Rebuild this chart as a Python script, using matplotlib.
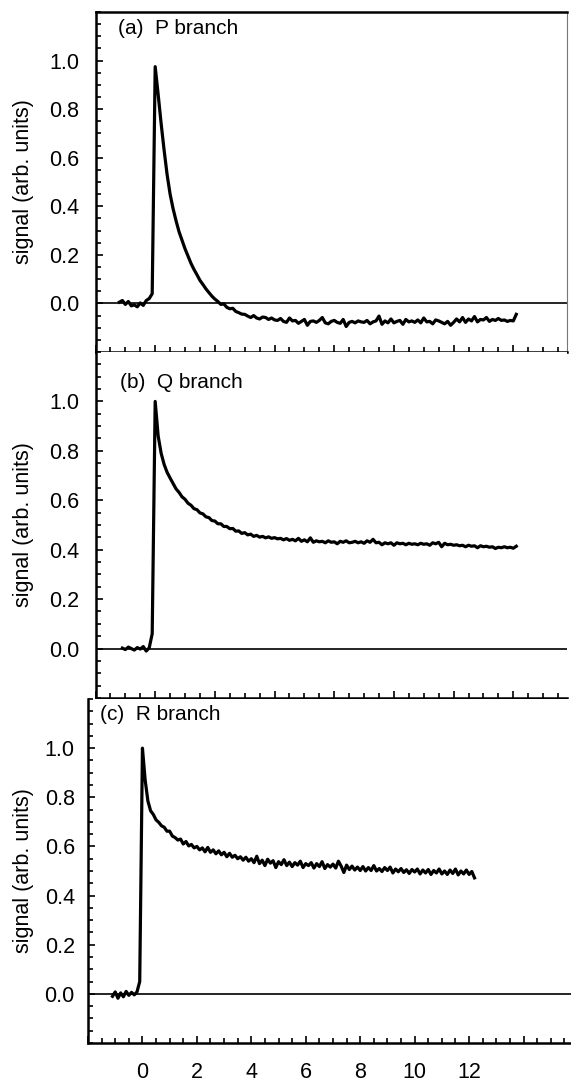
import numpy as np
import matplotlib
matplotlib.use("Agg")
import matplotlib.pyplot as plt
from matplotlib.ticker import MultipleLocator, FixedLocator, FuncFormatter

plt.rcParams['font.family'] = ['Liberation Sans', 'DejaVu Sans']

# ---------------- data (time in ps, uniformly sampled) ----------------
step = 0.1

p_start = -1.2
p_signal = [
    0.005, 0.012, -0.004, 0.008, -0.010, -0.006, -0.014, 0.002, -0.008, 0.012, 0.020,
    0.04, 0.975,
    0.86, 0.74, 0.63, 0.53, 0.45, 0.39, 0.34, 0.295, 0.26,
    0.225, 0.195, 0.165, 0.14, 0.118, 0.095, 0.078, 0.06, 0.045, 0.03,
    0.018, 0.008, -0.004, -0.002, -0.016, -0.022, -0.02, -0.033, -0.038, -0.044,
    -0.045, -0.052, -0.058, -0.05, -0.06, -0.064, -0.056, -0.058, -0.066, -0.06,
    -0.068, -0.07, -0.062, -0.074, -0.078, -0.06, -0.072, -0.07, -0.082, -0.074,
    -0.066, -0.09, -0.074, -0.072, -0.078, -0.07, -0.058, -0.08, -0.084, -0.074,
    -0.07, -0.078, -0.082, -0.066, -0.095, -0.078, -0.074, -0.08, -0.072, -0.076,
    -0.078, -0.07, -0.084, -0.076, -0.072, -0.052, -0.086, -0.072, -0.08, -0.064,
    -0.08, -0.074, -0.07, -0.086, -0.066, -0.076, -0.072, -0.078, -0.068, -0.08,
    -0.06, -0.076, -0.074, -0.084, -0.068, -0.072, -0.078, -0.084, -0.074, -0.09,
    -0.078, -0.064, -0.076, -0.058, -0.078, -0.064, -0.072, -0.054, -0.076, -0.066,
    -0.068, -0.058, -0.074, -0.066, -0.07, -0.062, -0.07, -0.068, -0.074, -0.07,
    -0.072, -0.045,
]

q_start = -1.1
q_signal = [
    0.002, -0.004, 0.006, 0.0, -0.006, 0.004, -0.002, 0.008, -0.010, 0.003,
    0.06, 1.0,
    0.86, 0.79, 0.745, 0.713, 0.69, 0.668, 0.646, 0.632, 0.614,
    0.604, 0.588, 0.58, 0.566, 0.562, 0.549, 0.545, 0.533, 0.53, 0.518,
    0.516, 0.505, 0.505, 0.494, 0.494, 0.485, 0.486, 0.475, 0.476, 0.466,
    0.469, 0.46, 0.463, 0.454, 0.458, 0.451, 0.454, 0.448, 0.452, 0.446,
    0.449, 0.444, 0.446, 0.44, 0.445, 0.438, 0.442, 0.436, 0.446, 0.434,
    0.44, 0.432, 0.448, 0.43, 0.436, 0.432, 0.434, 0.428, 0.436, 0.43,
    0.432, 0.424, 0.434, 0.43, 0.436, 0.428, 0.43, 0.434, 0.428, 0.432,
    0.426, 0.436, 0.43, 0.442, 0.428, 0.43, 0.42, 0.428, 0.424, 0.428,
    0.418, 0.428, 0.424, 0.426, 0.42, 0.426, 0.422, 0.424, 0.42, 0.426,
    0.422, 0.424, 0.418, 0.428, 0.424, 0.43, 0.412, 0.426, 0.42, 0.422,
    0.418, 0.42, 0.416, 0.418, 0.412, 0.418, 0.414, 0.416, 0.408, 0.416,
    0.412, 0.414, 0.41, 0.412, 0.405, 0.41, 0.408, 0.412, 0.408, 0.41,
    0.406, 0.414,
]

r_start = -1.1
r_signal = [
    -0.010, 0.008, -0.018, 0.004, -0.012, 0.010, -0.006, 0.006, -0.004, 0.008,
    0.05, 1.0,
    0.87, 0.785, 0.745, 0.73, 0.708, 0.698, 0.684, 0.678, 0.662,
    0.662, 0.642, 0.636, 0.626, 0.63, 0.61, 0.62, 0.602, 0.608, 0.594,
    0.6, 0.586, 0.594, 0.578, 0.596, 0.576, 0.586, 0.57, 0.582, 0.566,
    0.576, 0.558, 0.572, 0.556, 0.564, 0.55, 0.558, 0.544, 0.556, 0.54,
    0.55, 0.534, 0.56, 0.53, 0.544, 0.522, 0.548, 0.532, 0.542, 0.514,
    0.538, 0.526, 0.546, 0.522, 0.536, 0.518, 0.534, 0.524, 0.54, 0.514,
    0.53, 0.522, 0.534, 0.512, 0.53, 0.518, 0.538, 0.51, 0.526, 0.516,
    0.528, 0.512, 0.54, 0.52, 0.494, 0.524, 0.506, 0.52, 0.504, 0.516,
    0.502, 0.518, 0.5, 0.514, 0.502, 0.522, 0.5, 0.51, 0.498, 0.514,
    0.502, 0.516, 0.492, 0.508, 0.497, 0.51, 0.494, 0.505, 0.49, 0.506,
    0.496, 0.508, 0.488, 0.504, 0.492, 0.506, 0.486, 0.502, 0.492, 0.508,
    0.488, 0.5, 0.486, 0.504, 0.49, 0.508, 0.484, 0.5, 0.488, 0.504,
    0.486, 0.498, 0.472,
]

panels = [
    ("(a)  P branch", p_start, p_signal),
    ("(b)  Q branch", q_start, q_signal),
    ("(c)  R branch", r_start, r_signal),
]
y_major = [0.0, 0.2, 0.4, 0.6, 0.8, 1.0]
x_labels = [0, 2, 4, 6, 8, 10, 12]

# ---------------- layout (pixel based) ----------------
W, H = 571, 1083
fig = plt.figure(figsize=(W / 100, H / 100), dpi=100)


def px_axes(left, right, top, bottom):
    return fig.add_axes([left / W, 1 - bottom / H, (right - left) / W, (bottom - top) / H])


lefts = [95.5, 95.5, 88]
axes = [
    px_axes(95.5, 567, 12, 352),
    px_axes(95.5, 567, 352, 698),
    px_axes(88, 88 + 18 * 27.22, 699, 1043),
]
xlims = [(-2, 13.8), (-2, 13.8), (-2, 16)]
label_pos = [(118, 28), (120, 382), (100, 715)]
ypads = [11.5, 11.5, 9.5]

for i, (ax, (label, x0, sig), xl) in enumerate(zip(axes, panels, xlims)):
    sig = np.asarray(sig)
    t = x0 + step * np.arange(len(sig))
    ax.plot(t, sig, color='black', lw=2.3, solid_joinstyle='round')
    ax.axhline(0, color='black', lw=1.2)
    ax.set_xlim(*xl)
    ax.set_ylim(-0.2, 1.2)

    ax.yaxis.set_major_locator(FixedLocator(y_major))
    ax.yaxis.set_minor_locator(MultipleLocator(0.05))
    ax.yaxis.set_major_formatter(FuncFormatter(lambda v, p: f"{v:.1f}"))
    ax.xaxis.set_major_locator(MultipleLocator(2))
    ax.xaxis.set_minor_locator(MultipleLocator(0.5))

    ax.tick_params(which='both', direction='in', top=False, right=False,
                   width=1.2, labelsize=15.5)
    ax.tick_params(which='major', length=5)
    ax.tick_params(which='minor', length=3.5)
    ax.tick_params(axis='y', pad=ypads[i])

    if i < 2:
        ax.tick_params(axis='x', labelbottom=False)
    else:
        ax.xaxis.set_major_formatter(
            FuncFormatter(lambda v, p: f"{int(round(v))}" if int(round(v)) in x_labels else ""))
        ax.tick_params(axis='x', pad=13.5)

    for s in ['left', 'bottom', 'top']:
        ax.spines[s].set_linewidth(1.8)
    if i == 0:
        ax.spines['right'].set_linewidth(0.8)
        ax.spines['right'].set_color('#777777')
    else:
        ax.spines['right'].set_visible(False)
    if i > 0:
        ax.spines['top'].set_visible(False)

    ax.set_ylabel("signal (arb. units)", fontsize=15.5)
    axw = ax.get_position().width * W
    ax.yaxis.set_label_coords((34 - lefts[i]) / axw, 0.5)

    lx, ly = label_pos[i]
    fig.text(lx / W, 1 - ly / H, label, fontsize=15, va='center', ha='left')

fig.savefig("out.png", dpi=100)
